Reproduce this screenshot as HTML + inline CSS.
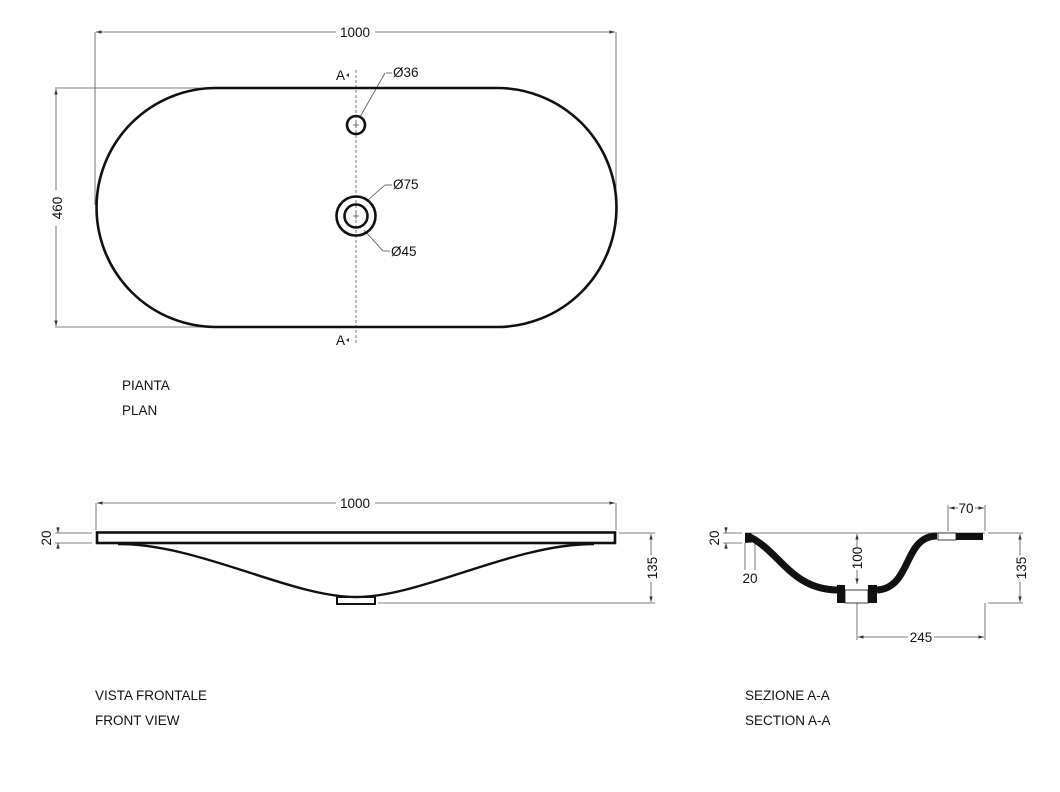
<!DOCTYPE html>
<html><head><style>
html,body{margin:0;padding:0;background:#fff;}
svg{display:block;}
text{font-family:"Liberation Sans",sans-serif;fill:#111;}
</style></head><body>
<svg width="1060" height="792" viewBox="0 0 1060 792" xmlns="http://www.w3.org/2000/svg">
<defs>
<marker id="ar" viewBox="0 0 10 10" refX="10" refY="5" markerWidth="7" markerHeight="7" orient="auto-start-reverse"><path d="M0,2 L10,5 L0,8 z" fill="#333"/></marker>
</defs>
<g stroke="#555" stroke-width="0.8" fill="none">
<line x1="95" y1="32" x2="95" y2="205"/><line x1="616" y1="32" x2="616" y2="205"/>
<line x1="96" y1="32" x2="336" y2="32" marker-start="url(#ar)"/><line x1="375" y1="32" x2="615" y2="32" marker-end="url(#ar)"/>
<line x1="55" y1="88" x2="216" y2="88"/><line x1="55" y1="327" x2="216" y2="327"/>
<line x1="56" y1="89" x2="56" y2="190" marker-start="url(#ar)"/><line x1="56" y1="226" x2="56" y2="326" marker-end="url(#ar)"/>
<line x1="356" y1="70" x2="356" y2="345" stroke-dasharray="3,2"/>
<line x1="360" y1="117" x2="385" y2="73"/><line x1="386" y1="73" x2="392" y2="73"/>
<line x1="368" y1="200" x2="385" y2="185"/><line x1="385" y1="185" x2="392" y2="185"/>
<line x1="364" y1="230" x2="383" y2="251"/><line x1="383" y1="251" x2="390" y2="251"/>
<line x1="353" y1="125" x2="359" y2="125"/><line x1="356" y1="122" x2="356" y2="128"/>
<line x1="353" y1="216" x2="359" y2="216"/><line x1="356" y1="213" x2="356" y2="219"/>
<line x1="96" y1="503" x2="96" y2="530"/><line x1="616" y1="503" x2="616" y2="530"/>
<line x1="97" y1="503" x2="336" y2="503" marker-start="url(#ar)"/><line x1="375" y1="503" x2="615" y2="503" marker-end="url(#ar)"/>
<line x1="55" y1="533" x2="92" y2="533"/><line x1="55" y1="543" x2="92" y2="543"/>
<line x1="58" y1="527" x2="58" y2="533" marker-end="url(#ar)"/><line x1="58" y1="549" x2="58" y2="543" marker-end="url(#ar)"/>
<line x1="619" y1="533" x2="655" y2="533"/><line x1="378" y1="603" x2="655" y2="603"/>
<line x1="651" y1="534" x2="651" y2="555" marker-start="url(#ar)"/><line x1="651" y1="582" x2="651" y2="602" marker-end="url(#ar)"/>
<line x1="745" y1="533" x2="985" y2="533"/>
<line x1="723" y1="533" x2="742" y2="533"/><line x1="723" y1="543" x2="742" y2="543"/>
<line x1="726" y1="527" x2="726" y2="533" marker-end="url(#ar)"/><line x1="726" y1="549" x2="726" y2="543" marker-end="url(#ar)"/>
<line x1="745" y1="543" x2="745" y2="570"/><line x1="755" y1="543" x2="755" y2="570"/>
<line x1="857" y1="534" x2="857" y2="547" marker-start="url(#ar)"/><line x1="857" y1="570" x2="857" y2="584" marker-end="url(#ar)"/>
<line x1="857" y1="603" x2="857" y2="640"/><line x1="985" y1="603" x2="985" y2="640"/>
<line x1="858" y1="637" x2="908" y2="637" marker-start="url(#ar)"/><line x1="934" y1="637" x2="984" y2="637" marker-end="url(#ar)"/>
<line x1="988" y1="533" x2="1023" y2="533"/><line x1="988" y1="603" x2="1023" y2="603"/>
<line x1="1020" y1="534" x2="1020" y2="555" marker-start="url(#ar)"/><line x1="1020" y1="582" x2="1020" y2="602" marker-end="url(#ar)"/>
<line x1="948" y1="505" x2="948" y2="531"/><line x1="985" y1="505" x2="985" y2="531"/>
<line x1="949" y1="508" x2="958" y2="508" marker-start="url(#ar)"/><line x1="975" y1="508" x2="984" y2="508" marker-end="url(#ar)"/>
</g>
<g stroke="#111" fill="none" stroke-width="2.6">
<path d="M216,88 H497 A119.5,119.5 0 0 1 497,327 H216 A119.5,119.5 0 0 1 216,88 Z"/>
<circle cx="356" cy="125" r="9"/>
<circle cx="356" cy="216" r="19.5"/>
<circle cx="356" cy="216" r="11.5"/>
<rect x="97" y="532.5" width="518" height="10.5"/>
<path d="M118,544 C200,544 290,597 356,597 C422,597 512,544 594,544" stroke-width="2.4"/>
<rect x="337" y="597" width="38" height="7" stroke-width="2"/>
</g>
<path d="M349,73 l-3,2 l3,2z M349,338 l-3,2 l3,2z" fill="#333"/>
<!-- section -->
<path d="M745,533 L751,533 L757,542 L745,543 Z" fill="#111"/>
<path d="M750,537 C780,552 792,590 838,590" stroke="#111" stroke-width="7" fill="none"/>
<path d="M877,590 C912,588 903,536 937,536" stroke="#111" stroke-width="7" fill="none"/>
<rect x="837" y="585" width="8" height="18" fill="#111"/>
<rect x="868" y="585" width="9" height="18" fill="#111"/>
<rect x="845" y="590" width="23" height="13" fill="#fff" stroke="#111" stroke-width="0.8"/>
<rect x="956" y="533" width="27" height="7" fill="#111"/>
<rect x="938" y="533" width="18" height="7" fill="#fff" stroke="#111" stroke-width="0.8"/>
<g font-size="13.5">
<text x="355" y="37" text-anchor="middle">1000</text>
<text x="62" y="208" transform="rotate(-90 62 208)" text-anchor="middle">460</text>
<text x="336" y="80">A</text>
<text x="336" y="345">A</text>
<text x="393" y="77">Ø36</text>
<text x="393" y="189">Ø75</text>
<text x="391" y="256">Ø45</text>
<text x="122" y="390">PIANTA</text>
<text x="122" y="415">PLAN</text>
<text x="355" y="508" text-anchor="middle">1000</text>
<text x="51" y="538" transform="rotate(-90 51 538)" text-anchor="middle">20</text>
<text x="657" y="568" transform="rotate(-90 657 568)" text-anchor="middle">135</text>
<text x="95" y="700">VISTA FRONTALE</text>
<text x="95" y="725">FRONT VIEW</text>
<text x="719" y="538" transform="rotate(-90 719 538)" text-anchor="middle">20</text>
<text x="750" y="583" text-anchor="middle">20</text>
<text x="862" y="558" transform="rotate(-90 862 558)" text-anchor="middle">100</text>
<text x="921" y="642" text-anchor="middle">245</text>
<text x="1026" y="568" transform="rotate(-90 1026 568)" text-anchor="middle">135</text>
<text x="966" y="513" text-anchor="middle">70</text>
<text x="745" y="700">SEZIONE A-A</text>
<text x="745" y="725">SECTION A-A</text>
</g>
</svg>
</body></html>
